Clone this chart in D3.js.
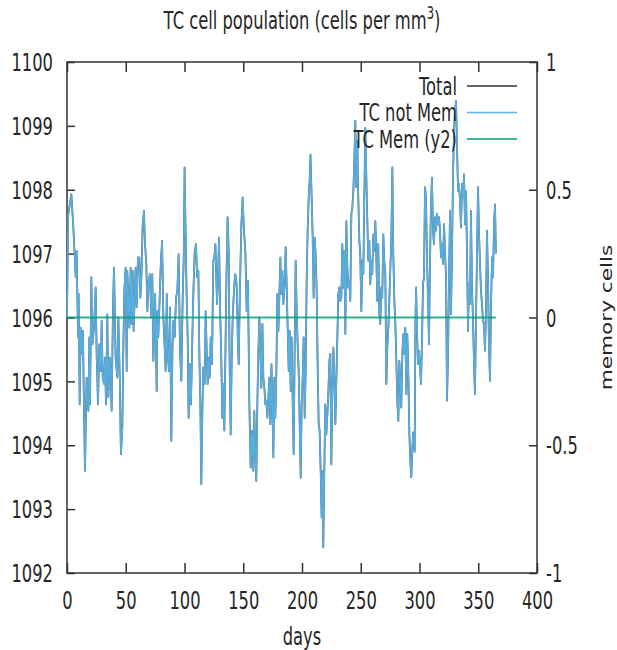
<!DOCTYPE html>
<html>
<head>
<meta charset="utf-8">
<title>TC cell population</title>
<style>
body { margin: 0; background: #fff; }
svg text { font-family: "DejaVu Sans", sans-serif; fill: #262626; }
</style>
</head>
<body>
<svg id="chart"></svg>
<script src="https://cdnjs.cloudflare.com/ajax/libs/d3/7.8.5/d3.min.js"></script>
<script>
// values (day, cells per mm3)
var days = [0, 1, 3.7, 5.4, 6.5, 7.4, 8.2, 9.4, 9.9, 10.8, 11.6, 13.0, 13.6, 14.2, 15.3, 16.7, 18.2, 19.0, 19.6, 20.7,
  21.6, 23.0, 24.4, 25.3, 26.4, 27.5, 28.7, 29.5, 30.4, 31.5, 32.3, 33.2, 34.3, 35.2, 36.3, 37.2, 38.0, 39.2, 40.0, 41.4,
  42.8, 43.7, 44.8, 45.9, 47.1, 47.9, 48.8, 49.9, 50.8, 51.3, 52.2, 53.1, 54.2, 55.0, 55.9, 56.7, 57.6, 58.4, 59.3, 60.4,
  61.6, 62.4, 63.3, 64.4, 65.5, 66.4, 67.5, 68.4, 69.5, 70.6, 71.8, 72.6, 73.5, 75.0, 76.3, 76.9, 77.7, 78.6, 79.7, 80.9,
  82.0, 82.9, 84.0, 84.9, 85.7, 86.8, 87.7, 88.8, 89.7, 90.5, 91.6, 92.8, 93.9, 95.0, 96.2, 97.3, 98.5, 99.3, 100.1, 101.0,
  101.8, 102.7, 103.5, 104.7, 105.5, 106.7, 107.5, 108.7, 109.8, 110.7, 111.8, 112.6, 113.5, 114.3, 115.2, 116.0, 117.2, 118.0, 118.9, 119.7,
  120.6, 121.4, 122.3, 123.4, 124.5, 125.4, 126.3, 126.8, 127.7, 128.5, 129.4, 130.2, 131.3, 132.2, 133.0, 133.9, 134.7, 135.6, 136.7, 137.6,
  138.4, 139.3, 140.1, 141.0, 141.8, 143.0, 143.8, 144.7, 145.3, 146.1, 147.2, 148.4, 149.5, 150.6, 151.8, 152.9, 154.0, 155.2, 156.3, 157.4,
  158.6, 159.4, 160.3, 161.1, 162.0, 162.8, 163.7, 164.5, 165.4, 166.3, 167.1, 168.0, 168.8, 169.7, 170.5, 171.4, 172.2, 173.1, 174.0, 174.8,
  175.6, 176.5, 177.3, 178.2, 179.0, 179.9, 180.7, 181.6, 182.4, 183.3, 184.1, 185.2, 186.1, 187.0, 187.8, 188.7, 189.5, 190.4, 191.2, 192.1,
  192.9, 193.8, 194.6, 195.5, 196.3, 197.2, 198.0, 198.9, 199.7, 200.6, 201.4, 202.3, 203.1, 204.0, 204.8, 205.7, 206.5, 207.2, 208.2, 209.1,
  209.9, 210.8, 211.6, 212.5, 213.3, 214.2, 215.0, 215.9, 216.7, 217.6, 218.1, 219.0, 219.8, 220.7, 221.6, 222.4, 223.3, 224.1, 225.0, 225.8,
  226.7, 227.5, 228.4, 229.2, 230.1, 230.9, 231.8, 232.6, 233.5, 234.3, 235.2, 236.0, 236.9, 237.7, 238.6, 239.4, 240.3, 241.1, 242.0, 242.8,
  243.7, 244.5, 245.4, 246.2, 247.1, 247.9, 248.8, 249.6, 250.5, 251.3, 252.2, 253.0, 253.9, 254.7, 255.6, 256.4, 257.3, 258.1, 259.0, 259.8,
  260.7, 261.5, 262.4, 263.2, 264.1, 264.9, 265.8, 266.6, 267.5, 268.3, 269.2, 270.0, 270.9, 271.8, 272.6, 273.5, 274.3, 275.2, 276.0, 276.9,
  277.7, 278.6, 279.4, 280.3, 281.1, 282.0, 282.8, 283.7, 284.5, 285.4, 286.2, 287.1, 287.9, 288.8, 289.6, 290.5, 291.4, 292.2, 293.0, 294.5,
  295.9, 296.5, 297.1, 297.9, 298.7, 299.6, 300.4, 301.3, 302.1, 303.0, 303.8, 304.7, 305.5, 306.4, 307.2, 308.1, 308.9, 309.8, 310.6, 311.5,
  312.3, 313.2, 314.0, 314.9, 315.7, 316.6, 317.4, 318.3, 319.1, 320.0, 320.9, 321.7, 322.6, 323.4, 324.3, 325.1, 326.0, 326.8, 327.7, 328.5,
  329.4, 330.2, 331.1, 331.9, 332.8, 333.6, 334.5, 335.3, 336.2, 337.0, 337.9, 338.7, 339.6, 340.4, 341.3, 342.1, 343.0, 343.8, 344.7, 345.5,
  346.4, 347.2, 348.1, 348.9, 349.8, 350.6, 351.5, 352.3, 353.2, 354.0, 354.9, 355.7, 356.6, 357.4, 358.3, 359.1, 360.0, 360.9, 361.7, 362.6,
  363.4, 364.3, 365.0];

var total = [1096.0, 1097.6, 1097.93, 1097.41, 1096.99, 1096.63, 1097.04, 1095.69, 1096.37, 1094.64, 1095.84, 1095.43, 1095.79, 1094.9, 1093.6, 1095.06, 1094.54, 1095.69, 1094.64, 1096.63,
  1095.58, 1095.84, 1096.47, 1095.37, 1094.64, 1095.58, 1095.16, 1095.95, 1095.06, 1094.96, 1095.37, 1094.64, 1096.05, 1094.75, 1095.37, 1095.16, 1094.54, 1096.21, 1096.78, 1095.37,
  1095.06, 1096.0, 1095.16, 1093.86, 1094.28, 1095.48, 1096.42, 1096.78, 1095.16, 1096.73, 1096.31, 1095.84, 1096.78, 1095.9, 1096.73, 1095.79, 1096.31, 1096.78, 1096.16, 1096.94,
  1096.94, 1096.31, 1096.63, 1097.44, 1097.67, 1097.15, 1096.84, 1096.1, 1096.57, 1096.68, 1096.0, 1096.68, 1095.32, 1096.37, 1094.85, 1096.1, 1095.69, 1096.16, 1096.78, 1097.2,
  1096.0, 1095.63, 1095.16, 1096.37, 1095.48, 1095.16, 1096.16, 1094.07, 1095.48, 1095.95, 1095.69, 1096.31, 1096.42, 1096.99, 1095.48, 1095.01, 1096.37, 1096.89, 1098.35, 1097.25,
  1096.37, 1095.69, 1094.43, 1095.27, 1094.64, 1095.69, 1096.37, 1097.04, 1097.15, 1096.63, 1096.73, 1095.48, 1094.64, 1093.39, 1094.54, 1095.22, 1094.96, 1096.1, 1095.48, 1094.96,
  1095.37, 1095.06, 1095.69, 1095.27, 1096.89, 1096.94, 1097.15, 1096.78, 1096.21, 1096.63, 1097.25, 1096.21, 1095.37, 1094.43, 1094.96, 1094.23, 1095.27, 1096.52, 1097.57, 1097.04,
  1095.27, 1094.17, 1095.27, 1096.0, 1096.31, 1096.68, 1096.63, 1096.42, 1095.69, 1095.27, 1096.47, 1097.46, 1097.88, 1097.36, 1097.04, 1096.1, 1096.57, 1094.64, 1093.65, 1094.23,
  1093.6, 1094.54, 1093.86, 1093.44, 1094.64, 1095.43, 1096.0, 1095.48, 1094.9, 1095.9, 1095.06, 1094.9, 1094.64, 1094.7, 1094.43, 1094.75, 1095.06, 1094.33, 1095.27, 1094.64,
  1093.81, 1095.06, 1094.43, 1095.16, 1096.37, 1095.79, 1096.31, 1096.94, 1096.37, 1096.73, 1096.21, 1096.52, 1097.1, 1096.47, 1095.84, 1095.16, 1095.79, 1094.85, 1095.69, 1094.64,
  1093.86, 1095.58, 1096.89, 1096.1, 1095.58, 1095.16, 1094.33, 1093.49, 1094.64, 1095.06, 1095.69, 1094.43, 1095.16, 1096.63, 1097.36, 1097.88, 1098.14, 1098.55, 1097.88, 1097.25,
  1096.31, 1097.25, 1096.99, 1096.42, 1095.27, 1094.33, 1094.23, 1093.6, 1092.87, 1093.6, 1092.4, 1093.6, 1094.64, 1094.17, 1094.49, 1094.8, 1095.32, 1095.43, 1093.7, 1094.85,
  1095.53, 1095.06, 1094.33, 1095.01, 1095.69, 1096.37, 1096.47, 1096.26, 1096.31, 1097.15, 1096.47, 1097.04, 1095.74, 1097.51, 1096.78, 1096.47, 1096.57, 1096.26, 1097.62, 1097.72,
  1097.98, 1098.45, 1099.08, 1098.04, 1098.77, 1097.88, 1097.2, 1096.99, 1096.1, 1096.89, 1096.68, 1097.83, 1098.97, 1098.24, 1097.51, 1096.89, 1097.2, 1096.52, 1096.89, 1096.68,
  1097.3, 1097.04, 1097.51, 1096.99, 1096.26, 1097.15, 1096.05, 1095.9, 1096.47, 1096.31, 1097.3, 1096.89, 1096.68, 1094.96, 1095.53, 1095.84, 1096.26, 1096.78, 1097.2, 1098.35,
  1096.99, 1096.26, 1095.95, 1095.32, 1094.7, 1094.38, 1095.32, 1095.01, 1094.59, 1095.43, 1095.74, 1095.43, 1095.84, 1094.8, 1095.74, 1095.11, 1094.17, 1093.76, 1093.5, 1094.2,
  1093.9, 1095.9, 1096.47, 1095.79, 1095.27, 1095.48, 1095.22, 1094.96, 1095.63, 1096.52, 1096.63, 1098.04, 1097.88, 1096.94, 1096.31, 1095.58, 1096.84, 1097.77, 1098.19, 1097.36,
  1097.15, 1097.57, 1097.36, 1097.62, 1097.46, 1097.57, 1097.36, 1096.94, 1097.15, 1096.84, 1097.46, 1097.04, 1096.63, 1094.7, 1095.43, 1096.63, 1097.67, 1096.05, 1097.04, 1098.19,
  1098.92, 1099.24, 1099.39, 1098.71, 1097.98, 1098.09, 1097.83, 1097.41, 1098.09, 1097.88, 1098.24, 1097.46, 1097.98, 1097.04, 1095.79, 1096.52, 1096.21, 1097.67, 1096.42, 1096.0,
  1095.27, 1094.8, 1096.0, 1096.94, 1098.04, 1097.36, 1096.84, 1096.42, 1096.21, 1095.95, 1095.9, 1095.48, 1096.1, 1097.36, 1096.63, 1095.58, 1095.01, 1096.21, 1096.94, 1096.63,
  1097.46, 1097.77, 1097.0];

// TC not Mem equals the total here (no memory cells)
var tcNotMem = total;
var memDays = [0, 365];
var tcMem = [0, 0];

var xTicks = [0, 50, 100, 150, 200, 250, 300, 350, 400];
var yTicks = [1092, 1093, 1094, 1095, 1096, 1097, 1098, 1099, 1100];
var y2Ticks = [-1, -0.5, 0, 0.5, 1];
var legendLabels = ["Total", "TC not Mem", "TC Mem (y2)"];
var legendColors = ["#333333", "#56b4e9", "#009e73"];

var W = 617, H = 650;
var margin = { top: 62, right: 80, bottom: 77, left: 67 };
var width = W - margin.left - margin.right;
var height = H - margin.top - margin.bottom;
var SX = 0.68;      // text is squeezed horizontally in the reference
var FS = 24;

var svg = d3.select("#chart").attr("width", W).attr("height", H);
var g = svg.append("g").attr("transform", "translate(" + margin.left + "," + margin.top + ")");

var x = d3.scaleLinear().domain([0, 400]).range([0, width]);
var y = d3.scaleLinear().domain([1092, 1100]).range([height, 0]);
var y2 = d3.scaleLinear().domain([-1, 1]).range([height, 0]);

function squeeze(sel, dx, anchor) {
  sel.selectAll("text")
    .attr("font-family", null)
    .attr("font-size", FS)
    .attr("fill", "#262626")
    .attr("text-anchor", anchor)
    .attr("x", dx / SX)
    .attr("transform", "scale(" + SX + ",1)");
}

function axisStyle(sel) {
  sel.attr("font-family", null).attr("font-size", null);
  sel.select(".domain").remove();
  sel.selectAll(".tick line").attr("stroke", "#333").attr("stroke-width", 1.5);
}

// left axis, ticks inside
var gy = g.append("g")
  .call(d3.axisLeft(y).tickValues(yTicks).tickFormat(d3.format("d"))
    .tickSizeInner(-8).tickSizeOuter(0).tickPadding(14));
axisStyle(gy);
squeeze(gy, -14, "end");
gy.selectAll("text").attr("dy", "0.36em");

// right axis (y2)
var gy2 = g.append("g")
  .attr("transform", "translate(" + width + ",0)")
  .call(d3.axisRight(y2).tickValues(y2Ticks).tickFormat(function(d) { return String(d); })
    .tickSizeInner(-8).tickSizeOuter(0).tickPadding(9));
axisStyle(gy2);
squeeze(gy2, 9, "start");
gy2.selectAll("text").attr("dy", "0.36em");

// bottom axis + mirrored top ticks
var gx = g.append("g")
  .attr("transform", "translate(0," + height + ")")
  .call(d3.axisBottom(x).tickValues(xTicks).tickSizeInner(-10).tickSizeOuter(0).tickPadding(36));
axisStyle(gx);
squeeze(gx, 0, "middle");
gx.selectAll("text").attr("y", 36).attr("dy", 0);

var gxt = g.append("g")
  .call(d3.axisTop(x).tickValues(xTicks).tickSizeInner(-10).tickSizeOuter(0).tickFormat(""));
axisStyle(gxt);

// frame
g.append("rect")
  .attr("width", width).attr("height", height)
  .attr("fill", "none").attr("stroke", "#333").attr("stroke-width", 1.5);

var line = d3.line()
  .x(function(d, i) { return x(days[i]); })
  .y(function(d) { return y(d); });

g.append("path").datum(total)
  .attr("fill", "none").attr("stroke", "#5a5a5a").attr("stroke-width", 1.8)
  .attr("stroke-linejoin", "round")
  .attr("d", line);

g.append("path").datum(tcNotMem)
  .attr("fill", "none").attr("stroke", "#56b4e9").attr("stroke-width", 1.6)
  .attr("stroke-opacity", 0.92).attr("stroke-linejoin", "round")
  .attr("d", line);

g.append("path").datum(tcMem)
  .attr("fill", "none").attr("stroke", "#009e73").attr("stroke-width", 2.2)
  .attr("stroke-opacity", 0.8)
  .attr("d", d3.line()
    .x(function(d, i) { return x(memDays[i]); })
    .y(function(d) { return y2(d); }));

// legend
var leg = g.append("g").attr("transform", "translate(" + (width - 80) + ",24)");
legendLabels.forEach(function(lab, i) {
  var row = leg.append("g").attr("transform", "translate(0," + (i * 26.5) + ")");
  row.append("text")
    .attr("transform", "scale(" + SX + ",1)")
    .attr("x", 0).attr("dy", "0.36em")
    .attr("text-anchor", "end")
    .attr("font-size", FS)
    .text(lab);
  row.append("line")
    .attr("x1", 10).attr("x2", 60)
    .attr("stroke", legendColors[i]).attr("stroke-width", 1.5);
});

// title
var title = svg.append("text")
  .attr("transform", "translate(" + (margin.left + width / 2) + ",29) scale(" + SX + ",1)")
  .attr("text-anchor", "middle")
  .attr("font-size", FS);
title.append("tspan").text("TC cell population (cells per mm");
title.append("tspan").attr("font-size", 17).attr("dy", -10).text("3");
title.append("tspan").attr("dy", 10).text(")");

// axis labels
svg.append("text")
  .attr("transform", "translate(" + (margin.left + width / 2) + ",645) scale(" + SX + ",1)")
  .attr("text-anchor", "middle")
  .attr("font-size", FS)
  .text("days");

svg.append("text")
  .attr("transform", "translate(612," + (margin.top + height / 2) + ") rotate(-90) scale(0.9," + SX + ")")
  .attr("text-anchor", "middle")
  .attr("font-size", FS)
  .text("memory cells");
</script>
</body>
</html>
